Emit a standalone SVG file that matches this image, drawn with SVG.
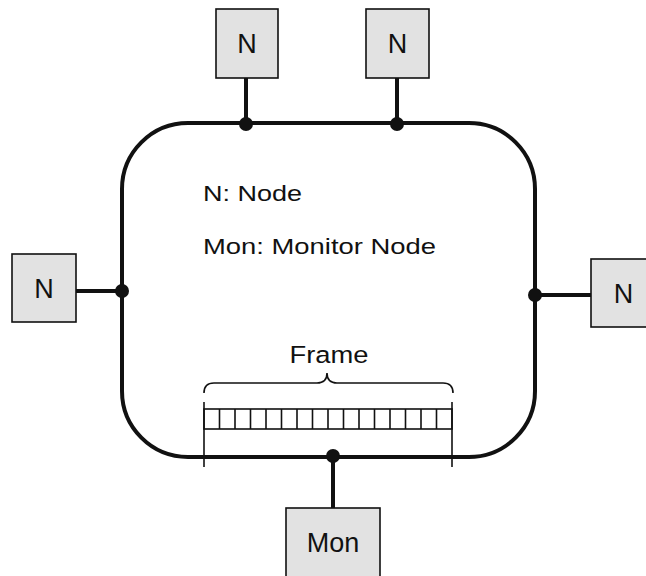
<svg xmlns="http://www.w3.org/2000/svg" width="646" height="576" viewBox="0 0 646 576">
<style>
.box{fill:#e2e2e2;stroke:#111;stroke-width:1.6}
.lbl{font-family:"Liberation Sans",Arial,sans-serif;fill:#111;text-anchor:middle}
.txt{font-family:"Liberation Sans",Arial,sans-serif;fill:#111}
.wire{stroke:#111;stroke-width:4;fill:none}
.thin{stroke:#111;stroke-width:1.6;fill:none}
.dot{fill:#111}
</style>
<rect width="646" height="576" fill="#fff"/>
<g id="ring">
<rect x="122" y="123" width="413" height="334" rx="66" ry="66" class="wire"/>
</g>
<g id="connectors">
<line x1="246" y1="78" x2="246" y2="123" class="wire"/>
<line x1="397" y1="78" x2="397" y2="123" class="wire"/>
<line x1="76" y1="291" x2="122" y2="291" class="wire"/>
<line x1="535" y1="295" x2="591" y2="295" class="wire"/>
<line x1="333" y1="457" x2="333" y2="508" class="wire"/>
<circle cx="246" cy="124" r="7" class="dot"/>
<circle cx="397" cy="124" r="7" class="dot"/>
<circle cx="122" cy="291" r="7" class="dot"/>
<circle cx="535" cy="295" r="7" class="dot"/>
<circle cx="333" cy="456" r="7" class="dot"/>
</g>
<g id="node-top1">
<rect x="216" y="9" width="62" height="69" class="box"/>
<text x="247" y="53" class="lbl" font-size="27">N</text>
</g>
<g id="node-top2">
<rect x="366" y="9" width="63" height="69" class="box"/>
<text x="397.5" y="53" class="lbl" font-size="27">N</text>
</g>
<g id="node-left">
<rect x="12" y="254" width="64" height="68" class="box"/>
<text x="44" y="298" class="lbl" font-size="27">N</text>
</g>
<g id="node-right">
<rect x="591" y="259" width="60" height="68" class="box"/>
<text x="623.5" y="303" class="lbl" font-size="27">N</text>
</g>
<g id="node-mon">
<rect x="286" y="508" width="94" height="72" class="box"/>
<text x="333" y="552" class="lbl" font-size="27">Mon</text>
</g>
<g id="legend">
<text x="203" y="201" class="txt" font-size="22.5" textLength="99" lengthAdjust="spacingAndGlyphs">N: Node</text>
<text x="203" y="254" class="txt" font-size="22.5" textLength="233" lengthAdjust="spacingAndGlyphs">Mon: Monitor Node</text>
</g>
<g id="frame">
<text x="329" y="363" class="lbl" font-size="24.5" textLength="79" lengthAdjust="spacingAndGlyphs">Frame</text>
<path d="M204,393 Q204,383 214,383 L317,383 Q327,383 327,373 Q327,383 337,383 L443,383 Q453,383 453,393" class="thin"/>
<line x1="204" y1="402" x2="204" y2="467" class="thin"/>
<line x1="452" y1="402" x2="452" y2="467" class="thin"/>
<rect x="204" y="409" width="248" height="20" class="thin"/>
<path d="M219.5,409v20M235,409v20M250.5,409v20M266,409v20M281.5,409v20M297,409v20M312.5,409v20M328,409v20M343.5,409v20M359,409v20M374.5,409v20M390,409v20M405.5,409v20M421,409v20M436.5,409v20" class="thin"/>
</g>
</svg>
